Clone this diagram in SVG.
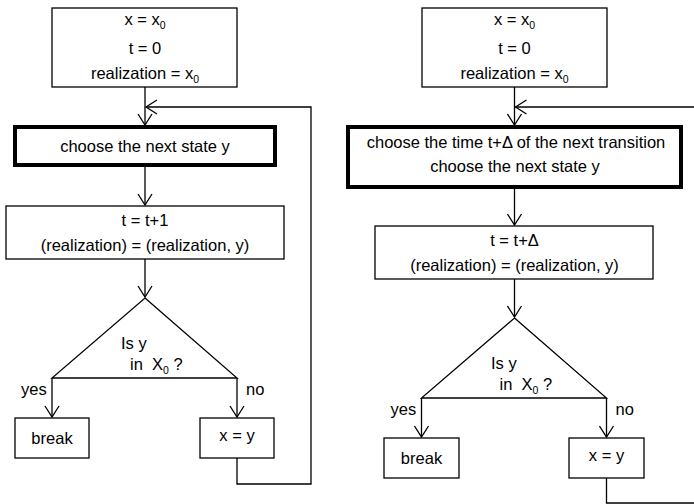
<svg xmlns="http://www.w3.org/2000/svg" width="694" height="504" viewBox="0 0 694 504">
<defs>
<marker id="ah" markerUnits="userSpaceOnUse" markerWidth="14" markerHeight="16" viewBox="0 0 14 16" refX="12" refY="8" orient="auto">
<path d="M1,1 L12,8 L1,15" fill="none" stroke="#000" stroke-width="1.3"/>
</marker>
</defs>
<style>
rect{fill:#fff;stroke:#000;stroke-width:1.3}
rect.thick{stroke-width:4}
text{font-family:"Liberation Sans",Arial,sans-serif;font-size:16.5px;fill:#000;text-anchor:middle;white-space:pre}
text.l{text-anchor:start}
.sub{font-size:10.5px}
.c{fill:none;stroke:#000;stroke-width:1.3}
</style>
<g id="connectors">
<path class="c" d="M145,87 V125" marker-end="url(#ah)"/>
<path class="c" d="M145,165 V205" marker-end="url(#ah)"/>
<path class="c" d="M145,259 V297" marker-end="url(#ah)"/>
<path class="c" d="M52,378 V417" marker-end="url(#ah)"/>
<path class="c" d="M237,378 V417" marker-end="url(#ah)"/>
<path class="c" d="M237,458 V484 H311 V107 H146" marker-end="url(#ah)"/>
<path class="c" d="M514.5,87 V125" marker-end="url(#ah)"/>
<path class="c" d="M514.5,187 V225" marker-end="url(#ah)"/>
<path class="c" d="M514.5,279 V317" marker-end="url(#ah)"/>
<path class="c" d="M421.5,398 V437" marker-end="url(#ah)"/>
<path class="c" d="M606.5,398 V437" marker-end="url(#ah)"/>
<path class="c" d="M606.5,478 V503 H694"/>
<path class="c" d="M694,107 H515.5" marker-end="url(#ah)"/>
</g>
<g id="L_init">
<rect x="52" y="8" width="185" height="79"/>
<text x="145" y="25">x = x<tspan class="sub" dy="4">0</tspan></text>
<text x="145" y="54">t = 0</text>
<text x="145" y="79">realization = x<tspan class="sub" dy="4">0</tspan></text>
</g>
<g id="L_choose">
<rect class="thick" x="15" y="127" width="260" height="38"/>
<text x="145" y="152">choose the next state y</text>
</g>
<g id="L_update">
<rect x="6" y="206" width="278" height="53"/>
<text x="145" y="226">t = t+1</text>
<text x="145" y="251">(realization) = (realization, y)</text>
</g>
<g id="L_decision">
<path class="c" d="M145,298 L237,378 H52 Z"/>
<text class="l" x="121" y="349">Is y</text>
<text class="l" x="130" y="370">in  X<tspan class="sub" dy="4">0</tspan><tspan dy="-4"> ?</tspan></text>
<text class="l" x="21" y="395">yes</text>
<text class="l" x="246" y="395">no</text>
</g>
<g id="L_break">
<rect x="15" y="418" width="74" height="40"/>
<text x="52" y="444">break</text>
</g>
<g id="L_assign">
<rect x="200" y="418" width="74" height="40"/>
<text x="237" y="441">x = y</text>
</g>
<g id="R_init">
<rect x="422" y="8" width="185" height="79"/>
<text x="514.5" y="25">x = x<tspan class="sub" dy="4">0</tspan></text>
<text x="514.5" y="54">t = 0</text>
<text x="514.5" y="79">realization = x<tspan class="sub" dy="4">0</tspan></text>
</g>
<g id="R_choose">
<rect class="thick" x="348" y="127" width="333" height="60"/>
<text x="516" y="148">choose the time t+Δ of the next transition</text>
<text x="515" y="172">choose the next state y</text>
</g>
<g id="R_update">
<rect x="375" y="226" width="278" height="53"/>
<text x="514.5" y="246">t = t+Δ</text>
<text x="514.5" y="271">(realization) = (realization, y)</text>
</g>
<g id="R_decision">
<path class="c" d="M514.5,318 L606.5,398 H421.5 Z"/>
<text class="l" x="491" y="369">Is y</text>
<text class="l" x="499.5" y="390">in  X<tspan class="sub" dy="4">0</tspan><tspan dy="-4"> ?</tspan></text>
<text class="l" x="390.5" y="415">yes</text>
<text class="l" x="615.5" y="415">no</text>
</g>
<g id="R_break">
<rect x="384" y="438" width="75" height="40"/>
<text x="421.5" y="464">break</text>
</g>
<g id="R_assign">
<rect x="569" y="438" width="75" height="40"/>
<text x="606.5" y="461">x = y</text>
</g>
</svg>
